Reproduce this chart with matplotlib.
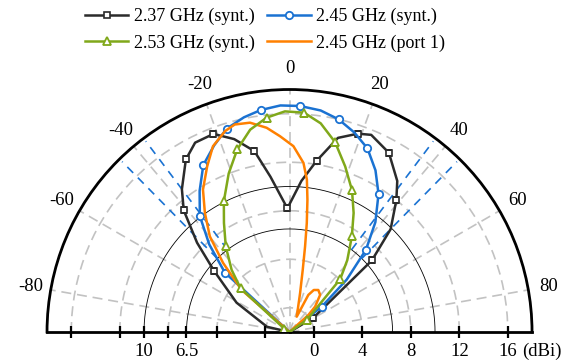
import numpy as np
import matplotlib.pyplot as plt
from matplotlib.ticker import FixedLocator

plt.rcParams['font.family'] = ['Liberation Serif', 'DejaVu Serif']
plt.rcParams['font.size'] = 13.5

# 2.37 GHz (synt.)  angle (deg) / gain (dBi)
ang_237 = [-90, -77, -61, -51, -46, -41, -37, -31, -26.5, -21, -16, -11, -7, -1, 4.5,
           9, 14, 19, 22.5, 29, 35.5, 39, 44.5, 49, 59, 70, 90]
gain_237 = [-2, -0.1, 3.0, 6.0, 8.6, 11.3, 12.75, 14.6, 15.45, 15.5, 14.55, 13.2, 10.9, 8.2, 10.5,
            12.3, 14.5, 15.3, 15.6, 14.9, 13.3, 12.0, 9.9, 7.0, 0.3, -2, -2]
mk_237 = [3, 5, 7, 9, 11, 13, 15, 17, 19, 21, 23, 24]

# 2.45 GHz (synt.)
ang_245 = [-90, -57, -47.4, -42.5, -37.7, -32.5, -27.3, -22, -17.2, -12, -7.4, -2.3, 2.7, 8,
           13, 18, 23, 28, 32.8, 38, 42.9, 47.5, 51.8, 60, 90]
gain_245 = [-2, -2, 5.25, 7.8, 10.1, 11.8, 13.5, 14.6, 15.55, 16.1, 16.46, 16.7, 16.66, 16.45,
            16.0, 15.3, 14.45, 13.1, 11.55, 9.5, 7.26, 4.4, 1.38, -2, -2]
mk_245 = [2, 4, 6, 8, 10, 12, 14, 16, 18, 20, 22]

# 2.53 GHz (synt.)
ang_253 = [-90, -58, -48.2, -43, -36.7, -31, -26.7, -21, -16, -11, -6.1, -1.2, 3.8, 8.5,
           13.5, 18.6, 23.8, 28.3, 33.1, 38.8, 43.8, 55.1, 70, 90]
gain_253 = [-2, -1.5, 3.42, 5.0, 6.8, 8.5, 10.06, 12.0, 13.66, 15.0, 15.78, 16.2, 16.13, 15.4,
            14.1, 12.4, 10.77, 9.15, 7.41, 5.6, 4.04, -0.26, -2, -2]
mk_253 = [1, 2, 4, 6, 8, 10, 12, 14, 16, 18, 20, 21]

# 2.45 GHz (port 1)
ang_p1 = [-90, -53, -48.7, -43.9, -39.8, -35.4, -31.3, -26.4, -22.4, -17.8, -14.8, -10.7, -6.4,
          -2.8, 1.2, 4.7, 6.5, 7.7, 9.0, 10.3, 12.0, 15.2, 25.2, 26.9, 30, 34.4, 39.5, 45.2,
          47.9, 50, 90]
gain_p1 = [-2, -2, 3.26, 5.9, 8.27, 10.05, 11.74, 13.27, 14.57, 15.4, 15.7, 15.57, 14.95,
           14.17, 13.33, 12.0, 10.65, 9.02, 7.1, 5.17, 3.24, 1.32, -0.6, 1.43, 2.0, 2.2, 1.97, 0.97,
           0.1, -2, -2]

# 径向刻度
r_min, r_max = -2, 18
r_grid = [0, 4, 8, 12, 16]
r_ticks_left = [0, 4, 6.5, 8, 10, 12, 16]
r_labels_left = [6.5, 10]
ref_levels = [6.5, 10]
beam_edges = [-44.5, -37, 37, 44.5]
theta_labels = list(range(-80, 81, 20))

fig = plt.figure(figsize=(5.79, 3.62), dpi=100)
# 半圆在方形坐标框里居中, 所以框要比图大
ax = fig.add_axes([0.0812, -0.2521, 0.8377, 1.3398], projection='polar')
ax.set_theta_zero_location('N')
ax.set_theta_direction(-1)
ax.set_thetamin(-90)
ax.set_thetamax(90)
ax.set_rlim(r_min, r_max)

ax.set_thetagrids(theta_labels, labels=[''] * len(theta_labels))
ax.xaxis.set_minor_locator(FixedLocator(np.deg2rad(np.arange(-70, 71, 20))))
ax.set_rgrids(r_grid, labels=[''] * len(r_grid))
ax.grid(True, color='#c2c2c2', linestyle=(0, (6, 3.5)), linewidth=1.2)
ax.tick_params(axis='x', which='major', direction='in', length=9, width=1.8)
ax.tick_params(axis='x', which='minor', direction='in', length=5.5, width=1.8)
ax.tick_params(axis='y', which='both', length=0)
for s in ['polar', 'start', 'end']:
    ax.spines[s].set_linewidth(2)

# 角度标签, 放在半径固定的位置
for a in theta_labels:
    ax.text(np.deg2rad(a), 19.7, str(a), ha='center', va='center', clip_on=False)

# 参考圆 6.5 / 10 dBi
th = np.linspace(-np.pi / 2, np.pi / 2, 181)
for lv in ref_levels:
    ax.plot(th, np.full_like(th, lv), color='k', lw=0.6, zorder=2)

# 蓝色虚线
for b in beam_edges:
    ax.plot(np.deg2rad([b, b]), [6.5, 17.7], color='#1a72d2', lw=1.2,
            linestyle=(0, (5, 4)), zorder=2)

ax.plot(np.deg2rad(ang_237), gain_237, color='#2b2b2b', lw=1.8, marker='s', ms=4.5,
        mfc='white', mew=1.2, markevery=mk_237, label='2.37 GHz (synt.)', zorder=4)
ax.plot(np.deg2rad(ang_253), gain_253, color='#80a81a', lw=1.8, marker='^', ms=6,
        mfc='white', mew=1.3, markevery=mk_253, label='2.53 GHz (synt.)', zorder=6)
ax.plot(np.deg2rad(ang_245), gain_245, color='#1a72d2', lw=1.8, marker='o', ms=5.3,
        mfc='white', mew=1.3, markevery=mk_245, label='2.45 GHz (synt.)', zorder=4)
ax.plot(np.deg2rad(ang_p1), gain_p1, color='#ff8000', lw=1.8,
        label='2.45 GHz (port 1)', zorder=5)

# 底部刻度
ax.plot(np.full(len(r_grid), np.pi / 2), r_grid, linestyle='none', marker='|', ms=8,
        mew=1.6, color='k', clip_on=False, zorder=7)
ax.plot(np.full(len(r_ticks_left), -np.pi / 2), r_ticks_left, linestyle='none', marker='|',
        ms=8, mew=1.6, color='k', clip_on=False, zorder=7)
for r in r_grid:
    ax.annotate(str(r), xy=(np.pi / 2, r), xytext=(0, -8), textcoords='offset points',
                ha='center', va='top')
for r in r_labels_left:
    ax.annotate(str(r), xy=(-np.pi / 2, r), xytext=(0, -8), textcoords='offset points',
                ha='center', va='top')
ax.annotate('(dBi)', xy=(np.pi / 2, 16), xytext=(10, -8), textcoords='offset points',
            ha='left', va='top')

fig.legend(loc='upper center', bbox_to_anchor=(265 / 579, 1.0), ncol=2, frameon=False,
           fontsize=13, handlelength=2.4, handletextpad=0.3, columnspacing=0.7,
           labelspacing=0.5, borderpad=0.45, borderaxespad=0)

fig.savefig('out.png', dpi=100)
